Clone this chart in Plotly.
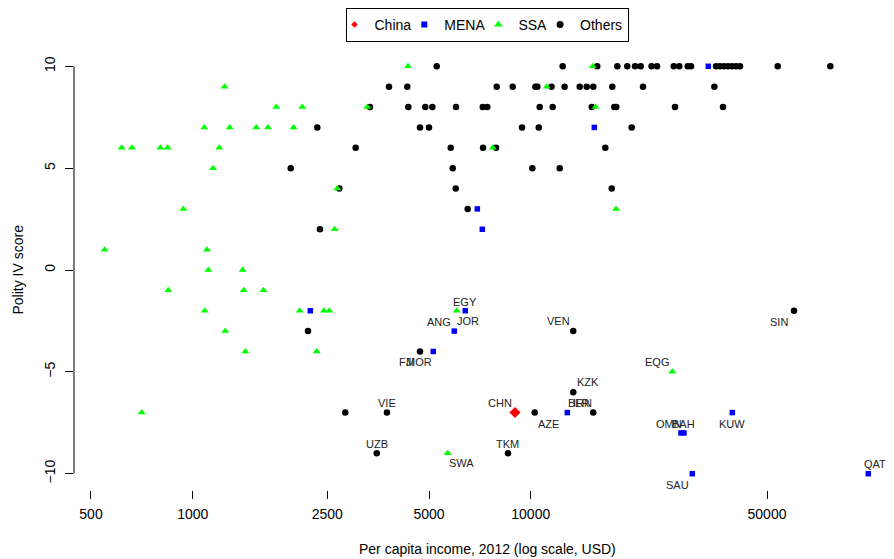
import numpy as np
import plotly.graph_objects as go

# ---------------- data ----------------
# Others (black circles)
others_income = [5270, 12430, 15730, 18040, 19300, 20350, 21150, 22770, 23640, 26490, 27510,
                 29130, 29800, 35330, 36300, 37310, 38340, 39390, 40490, 41600, 53790, 76960,
                 3808, 4313, 7930, 8844, 10320, 10460, 11520, 12590, 13960, 14640, 15310, 17430,
                 21480, 34930,
                 3344, 4343, 4875, 5114, 6010, 7210, 7437, 10630, 11610, 15150, 17670, 17910,
                 26720, 37050,
                 2336, 4703, 5000, 9422, 10560, 19890,
                 3034, 5797, 7224, 7893, 16620,
                 1949, 5877, 10110, 12180,
                 2714, 5998, 17360,
                 6508,
                 2379,
                 60100,
                 2193, 13360,
                 4703,
                 13360,
                 2827, 3755, 10270, 15310,
                 3502, 8564]
others_polity = [10] * 22 + [9] * 14 + [8] * 14 + [7] * 6 + [6] * 5 + [5] * 4 + [4] * 3 + [3] + [2] + \
                [-2] + [-3] * 2 + [-4] + [-6] + [-7] * 4 + [-9] * 2

# SSA (green triangles)
ssa_income = [4334, 15250,
              1243, 11150,
              1767, 2110, 3285, 15550,
              1082, 1286, 1542, 1670, 1987,
              616, 661, 802, 843, 1198, 7720,
              1148,
              2677,
              938, 17880,
              2630,
              549, 1102,
              1112, 1405,
              847, 1415, 1618,
              1085, 2072, 2445, 2535, 6040,
              1248,
              1431, 2327,
              26230,
              706,
              5680]
ssa_polity = [10] * 2 + [9] * 2 + [8] * 4 + [7] * 5 + [6] * 6 + [5] + [4] + [3] * 2 + [2] + [1] * 2 + \
             [0] * 2 + [-1] * 3 + [-2] * 5 + [-3] + [-4] * 2 + [-5] + [-7] + [-9]

# MENA (blue squares)
mena_income = [33520, 15420, 6950, 7190, 2228, 6402, 5940, 5148, 12830, 39480, 27830, 28400, 30060, 99700]
mena_polity = [10, 7, 3, 2, -2, -2, -3, -4, -7, -7, -8, -8, -10, -10]

# China (red diamond)
china_income = [8982]
china_polity = [-7]

# Labelled countries
label_codes = ["EGY", "ANG", "JOR", "VEN", "FJI", "MOR", "KZK", "IRN", "BLR", "CHN", "AZE", "VIE",
               "UZB", "SWA", "TKM", "EQG", "SIN", "OMN", "BAH", "KUW", "SAU", "QAT"]
label_income = [6402, 6040, 5940, 13360, 4703, 5148, 13360, 12830, 15310, 8982, 10270, 3755,
                3502, 5680, 8564, 26230, 60100, 27830, 28400, 39480, 30060, 99700]
label_polity = [-2, -2, -3, -3, -4, -4, -6, -7, -7, -7, -7, -7,
                -9, -9, -9, -5, -2, -8, -8, -7, -10, -10]

x_tick_vals = [500, 1000, 2500, 5000, 10000, 50000]
x_tick_text = ["500", "1000", "2500", "5000", "10000", "50000"]
y_tick_vals = [-10, -5, 0, 5, 10]
y_tick_text = ["\u221210", "\u22125", "0", "5", "10"]

# ---------------- styling / placement ----------------
label_offsets = {  # (dx, dy) in px from point centre to label centre (dy up positive)
    "EGY": (0, 9), "ANG": (-18, -11), "JOR": (14, 10), "VEN": (-15, 10), "FJI": (-14, -11),
    "MOR": (-14, -11), "KZK": (15, 10), "IRN": (15, 10), "BLR": (-15, 10), "CHN": (-15, 10),
    "AZE": (14, -11), "VIE": (0, 10), "UZB": (0, 9), "SWA": (14, -10), "TKM": (0, 9),
    "EQG": (-15, 10), "SIN": (-15, -11), "OMN": (-12, 9), "BAH": (0, 9), "KUW": (0, -11),
    "SAU": (-15, -11), "QAT": (7, 10),
}

FONT = "Liberation Sans, Arial, sans-serif"

fig = go.Figure()

fig.add_trace(go.Scatter(x=others_income, y=others_polity, mode="markers", showlegend=False,
                         marker=dict(symbol="circle", size=6.5, color="black")))
fig.add_trace(go.Scatter(x=ssa_income, y=ssa_polity, mode="markers", showlegend=False,
                         marker=dict(symbol="triangle-up", size=7, color="#00ff00")))
fig.add_trace(go.Scatter(x=mena_income, y=mena_polity, mode="markers", showlegend=False,
                         marker=dict(symbol="square", size=5.5, color="#0000ff")))
fig.add_trace(go.Scatter(x=china_income, y=china_polity, mode="markers", showlegend=False,
                         marker=dict(symbol="diamond", size=8.5, color="#ff0000")))

# legend-only entries
for name, sym, size, col in [("China", "diamond", 5, "#ff0000"), ("MENA", "square", 6, "#0000ff"),
                             ("SSA", "triangle-up", 7.5, "#00ff00"), ("Others", "circle", 7, "black")]:
    fig.add_trace(go.Scatter(x=[None], y=[None], mode="markers", name=name,
                             marker=dict(symbol=sym, size=size, color=col)))

annotations = []
for code, inc, pol in zip(label_codes, label_income, label_polity):
    dx, dy = label_offsets[code]
    annotations.append(dict(x=np.log10(inc), y=pol, xref="x", yref="y", text=code, showarrow=False,
                            xshift=dx, yshift=dy, xanchor="center", yanchor="middle",
                            font=dict(family=FONT, size=11, color="#222222")))

annotations.append(dict(text="Per capita income, 2012 (log scale, USD)", xref="paper", yref="paper",
                        x=(487 - 74) / 820, y=0, yshift=-59, showarrow=False, xanchor="center",
                        yanchor="middle", font=dict(family=FONT, size=14, color="black")))
annotations.append(dict(text="Polity IV score", xref="paper", yref="paper", x=0, xshift=-57,
                        y=(490 - 269.5) / 440, showarrow=False, textangle=-90, xanchor="center",
                        yanchor="middle", font=dict(family=FONT, size=14, color="black")))

shapes = [
    dict(type="line", xref="x", yref="paper", x0=np.log10(500), x1=np.log10(50000), y0=0, y1=0,
         line=dict(color="black", width=1)),
    dict(type="line", xref="paper", yref="y", x0=0, x1=0, y0=-10, y1=10,
         line=dict(color="black", width=1)),
]

# The page body has an 8px margin, so the figure is 8px smaller and its margins 8px tighter.
fig.update_layout(
    width=886, height=551,
    margin=dict(l=66, r=0, t=42, b=69, pad=0),
    paper_bgcolor="white", plot_bgcolor="white",
    font=dict(family=FONT, size=14, color="black"),
    xaxis=dict(type="log", range=[2.6487, 5.0747], tickvals=x_tick_vals, ticktext=x_tick_text,
               ticks="outside", ticklen=8, tickcolor="black", tickwidth=1, showline=False,
               showgrid=False, zeroline=False, tickfont=dict(size=14), ticklabelstandoff=3),
    yaxis=dict(range=[-10.8, 10.8], tickvals=y_tick_vals, ticktext=y_tick_text, tickangle=-90,
               ticks="outside", ticklen=8, tickcolor="black", tickwidth=1, showline=False,
               showgrid=False, zeroline=False, tickfont=dict(size=14), ticklabelstandoff=4),
    legend=dict(orientation="h", x=(487 - 74) / 820, xanchor="center", y=(490 - 8) / 440,
                yanchor="top", bordercolor="black", borderwidth=1, font=dict(size=14),
                bgcolor="white", itemclick=False, indentation=-12),
    annotations=annotations,
    shapes=shapes,
)

fig.write_html("out.html")
